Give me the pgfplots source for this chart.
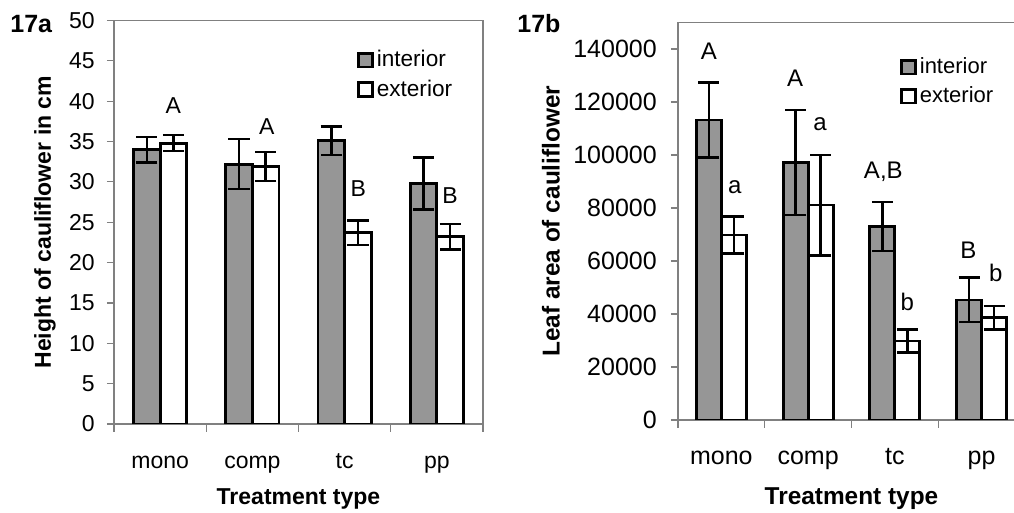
\documentclass[border=0pt]{standalone}
\usepackage{fontspec}
\setmainfont{Liberation Sans}
\usepackage{pgfplots}
\pgfplotsset{compat=1.18}
\usepackage{pgfplotstable}
\definecolor{bargray}{RGB}{150,150,150}
\definecolor{axgray}{RGB}{128,128,128}

\pgfplotstableread{
x int interr ext exterr
0 34.0 1.6 34.8 1.0
1 32.2 3.1 31.9 1.8
2 35.1 1.75 23.7 1.5
3 29.8 3.2 23.2 1.6
}\dataA

\pgfplotstableread{
x int interr ext exterr
0 113200 14200 69800 7000
1 97200 19800 81100 19000
2 73000 9300 29800 4300
3 45300 8400 38600 4500
}\dataB

\pgfplotsset{
  panel/.style={
    scale only axis,
    anchor=south west,
    xmin=-0.5, xmax=3.5, ymin=0,
    ybar=0pt,
    bar width=0.288,
    axis line style={axgray, line width=0.6pt, -},
    tick align=outside, tick pos=left,
    xtick={0,1,2,3}, xticklabels={mono,comp,tc,pp},
    minor xtick={-0.5,0.5,1.5,2.5,3.5},
    major x tick style={draw=none},
    minor x tick style={axgray, line width=0.6pt},
    minor tick length=4pt,
    major tick length=3.6pt,
    ytick style={axgray, line width=0.6pt},
    /pgf/number format/assume math mode=true,
    /pgf/number format/fixed,
    /pgf/number format/1000 sep={},
    scaled y ticks=false,
    legend cell align=left,
    legend style={draw=none, fill=none, inner sep=0pt, row sep=2pt,
      nodes={inner sep=1.5pt}},
  },
  errstyle/.style={
    error bars/y dir=both, error bars/y explicit,
    error bars/error bar style={black, line width=1.2pt},
    error bars/error mark options={black, line width=1.2pt, mark size=5.3pt, rotate=90}},
  barint/.style={fill=bargray, draw=black, line width=1.4pt,
    postaction={draw=black, line width=1.4pt}, bar shift=-0.144, errstyle},
  barext/.style={fill=white, draw=black, line width=1.4pt,
    postaction={draw=black, line width=1.4pt}, bar shift=0.144, errstyle},
  sqlegend/.style={/pgfplots/legend image code/.code={%
    \draw[##1, line width=1.1pt] (0pt,-3.4pt) rectangle (6.8pt,3.4pt);}},
}

\begin{document}
\begin{tikzpicture}
\useasboundingbox (0,0) rectangle (507pt,256.5pt);
\node[anchor=base west, font=\bfseries\fontsize{12.5}{14}\selectfont, inner sep=0pt] at (5pt,240pt) {17a};
\node[anchor=base west, font=\bfseries\fontsize{12.5}{14}\selectfont, inner sep=0pt] at (258.5pt,240pt) {17b};

\begin{axis}[panel,
  at={(57pt,44.5pt)},
  width=184.5pt, height=201.75pt,
  ymax=50, ytick={0,5,...,50},
  tick label style={font=\fontsize{11.5}{13}\selectfont},
  yticklabel style={xshift=-2.5pt},
  xticklabel style={anchor=base, yshift=-18.5pt},
  xlabel={Treatment type},
  ylabel={Height of cauliflower in cm},
  label style={font=\bfseries\fontsize{11.5}{13}\selectfont},
  xlabel style={at={(axis description cs:0.5,-0.2007)}, anchor=base},
  ylabel style={at={(axis description cs:-0.187,0.5)}, anchor=center},
  legend style={at={(0.6585,0.934)}, anchor=north west,
    font=\fontsize{11.3}{13}\selectfont},
]
\addplot[barint, sqlegend] table[x=x, y=int, y error=interr] {\dataA};
\addplot[barext, sqlegend] table[x=x, y=ext, y error=exterr] {\dataA};
\legend{interior, exterior}
\begin{scope}[every node/.style={anchor=base, font=\fontsize{11.5}{13}\selectfont, inner sep=0pt}]
\node at (axis cs:0.144,38.5) {A};
\node at (axis cs:1.155,35.9) {A};
\node at (axis cs:2.148,28.2) {B};
\node at (axis cs:3.142,27.35) {B};
\end{scope}
\end{axis}

\begin{axis}[panel,
  at={(339pt,46.5pt)},
  width=173.5pt, height=198.75pt,
  ymax=150000, ytick={0,20000,...,140000},
  tick label style={font=\fontsize{12.5}{14}\selectfont},
  yticklabel style={xshift=-3.5pt},
  xticklabel style={anchor=base, yshift=-18.5pt},
  xlabel={Treatment type},
  ylabel={Leaf area of cauliflower},
  label style={font=\bfseries\fontsize{12.2}{14}\selectfont},
  xlabel style={at={(axis description cs:0.5,-0.2138)}, anchor=base},
  ylabel style={at={(axis description cs:-0.366,0.5)}, anchor=center},
  legend style={at={(0.640,0.92)}, anchor=north west,
    font=\fontsize{11}{13}\selectfont},
]
\addplot[barint, sqlegend] table[x=x, y=int, y error=interr] {\dataB};
\addplot[barext, sqlegend] table[x=x, y=ext, y error=exterr] {\dataB};
\legend{interior, exterior}
\begin{scope}[every node/.style={anchor=base, font=\fontsize{12}{14}\selectfont, inner sep=0pt}]
\node at (axis cs:-0.144,136100) {A};
\node at (axis cs:0.155,85500) {a};
\node at (axis cs:0.85,126000) {A};
\node at (axis cs:1.137,109400) {a};
\node at (axis cs:1.867,91300) {A,B};
\node at (axis cs:2.143,41500) {b};
\node at (axis cs:2.847,61000) {B};
\node at (axis cs:3.162,52200) {b};
\end{scope}
\end{axis}
\end{tikzpicture}
\end{document}
